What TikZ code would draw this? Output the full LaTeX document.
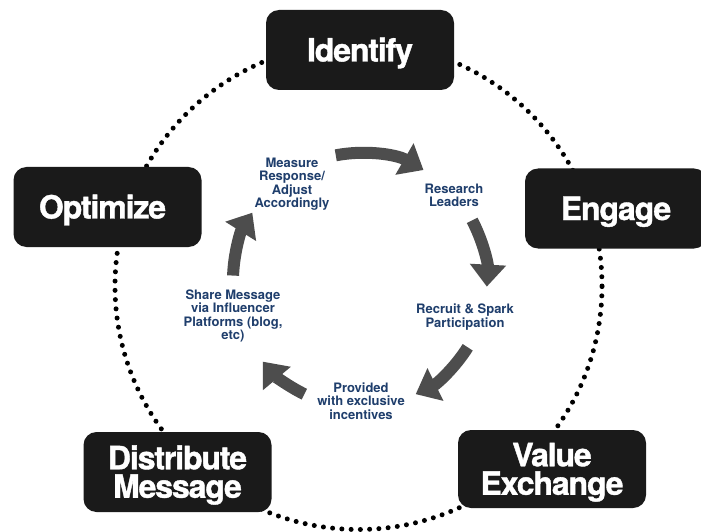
\documentclass[tikz,border=0pt]{standalone}
\usepackage{fontspec}
\setmainfont{TeX Gyre Heros}
\newfontfamily\stagefont[LetterSpace=-3.5, FakeBold=1.2]{TeX Gyre Heros}
\usetikzlibrary{arrows.meta}

\definecolor{boxgray}{HTML}{1A1A1A}
\definecolor{stepblue}{HTML}{1F3E6C}
\definecolor{arrowgray}{HTML}{4D4D4D}

\tikzstyle {stagebox} = [fill=boxgray, rounded corners=13pt, minimum width=188pt, minimum height=80pt, inner sep=0pt, text height=23pt, text depth=0pt, text=white, align=center, font=\stagefont\bfseries\fontsize{32}{28.5}\selectfont]
\tikzstyle {twoline} = [text height=51.5pt]
\tikzstyle {tasklabel} = [text=stepblue, align=center, inner sep=0pt, font=\bfseries\fontsize{13}{13.5}\selectfont]
\tikzstyle {ring} = [line width=5pt, line cap=round, dash pattern=on 0pt off 9.27pt]
\tikzstyle {cyclearrow} = [arrowgray, line width=12pt, -{Triangle[length=22pt, width=35pt]}]

\begin{document}
\begin{tikzpicture}[x=1pt, y=1pt]
    \useasboundingbox [fill=white] (0,0) rectangle (701,531);

    \coordinate (ringc) at (358.5,245);
    \coordinate (hub) at (360,251);

    % outer dotted cycle, boxes sit on top of it
    \draw [ring] (ringc) circle [radius=243.5pt];

    \node [stagebox] (identify) at (360,481) {Identify};
    \node [stagebox] (optimize) at (107.5,324) {Optimize\hspace{10pt}};
    \node [stagebox, minimum width=182pt] (engage) at (616,322.5) {Engage};
    \node [stagebox, twoline] (distribute) at (177.5,59) {Distribute\\Message};
    \node [stagebox, twoline, minimum height=78pt] (value) at (552,62) {Value\\Exchange};

    % inner steps
    \node [tasklabel] (measure) at (292,347) {Measure\\Response/\\Adjust\\Accordingly};
    \node [tasklabel] (research) at (454,335.5) {Research\\Leaders};
    \node [tasklabel] (recruit) at (465,214) {Recruit \& Spark\\Participation};
    \node [tasklabel] (provided) at (361,130) {Provided\\with exclusive\\incentives};
    \node [tasklabel] (share) at (233,215) {Share Message\\via Influencer\\Platforms (blog,\\etc)};

    \foreach \a/\b in {101/60, 28/-3, -32/-64, -116/-140, 178/148}
        \draw [cyclearrow] ([shift={(\a:127pt)}]hub) arc [start angle=\a, end angle=\b, radius=127pt];
\end{tikzpicture}
\end{document}
